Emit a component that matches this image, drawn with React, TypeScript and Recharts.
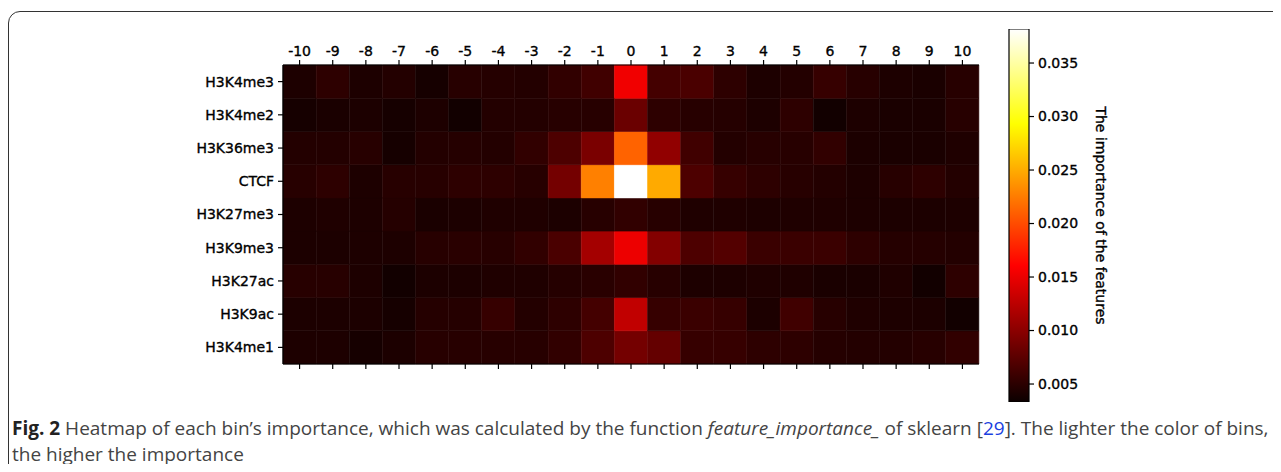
import { BarChart, Bar, XAxis, YAxis, Cell } from 'recharts'

const bins = [-10, -9, -8, -7, -6, -5, -4, -3, -2, -1, 0, 1, 2, 3, 4, 5, 6, 7, 8, 9, 10]
const marks = ['H3K4me3', 'H3K4me2', 'H3K36me3', 'CTCF', 'H3K27me3', 'H3K9me3', 'H3K27ac', 'H3K9ac', 'H3K4me1']

// importance per bin, one array per mark (row order top to bottom)
const h3k4me3 = [0.0043, 0.0051, 0.0043, 0.0046, 0.0039, 0.0048, 0.0047, 0.0046, 0.0053, 0.0061, 0.0153, 0.0063, 0.0066, 0.0051, 0.0043, 0.0046, 0.0056, 0.0048, 0.0043, 0.0041, 0.0048]
const h3k4me2 = [0.0039, 0.0041, 0.0042, 0.0039, 0.0043, 0.0037, 0.0046, 0.0046, 0.0048, 0.0048, 0.0083, 0.0051, 0.0048, 0.0047, 0.0043, 0.0051, 0.0037, 0.0043, 0.0041, 0.0041, 0.0048]
const h3k36me3 = [0.0046, 0.0046, 0.0048, 0.0039, 0.0046, 0.0047, 0.0046, 0.0053, 0.0068, 0.0091, 0.0212, 0.0103, 0.0061, 0.0046, 0.0048, 0.0048, 0.0053, 0.0042, 0.0041, 0.0041, 0.0044]
const ctcf = [0.0048, 0.0051, 0.0043, 0.0048, 0.0048, 0.0051, 0.0051, 0.0048, 0.0088, 0.0227, 0.0382, 0.0249, 0.0068, 0.0056, 0.0051, 0.0048, 0.0046, 0.0043, 0.0048, 0.0051, 0.0046]
const h3k27me3 = [0.0043, 0.0044, 0.0043, 0.0047, 0.0041, 0.0042, 0.0044, 0.0044, 0.0042, 0.0048, 0.0053, 0.0048, 0.0044, 0.0044, 0.0043, 0.0044, 0.0044, 0.0043, 0.0042, 0.0042, 0.0043]
const h3k9me3 = [0.0042, 0.0042, 0.0043, 0.0043, 0.0048, 0.0049, 0.0048, 0.0053, 0.0066, 0.0113, 0.0151, 0.0096, 0.0068, 0.0071, 0.0058, 0.0058, 0.0058, 0.0051, 0.0047, 0.0047, 0.0046]
const h3k27ac = [0.0048, 0.0048, 0.0043, 0.0037, 0.0042, 0.0042, 0.0044, 0.0044, 0.0047, 0.0049, 0.0053, 0.0048, 0.0043, 0.0043, 0.0044, 0.0044, 0.0041, 0.0041, 0.0044, 0.0037, 0.0051]
const h3k9ac = [0.0042, 0.0042, 0.0042, 0.0039, 0.0047, 0.0047, 0.0056, 0.0046, 0.0051, 0.0063, 0.0128, 0.0056, 0.0058, 0.0056, 0.0042, 0.0061, 0.0048, 0.0044, 0.0043, 0.0042, 0.0037]
const h3k4me1 = [0.0043, 0.0043, 0.0039, 0.0042, 0.0048, 0.0048, 0.0048, 0.0048, 0.0053, 0.0068, 0.0088, 0.0080, 0.0056, 0.0056, 0.0051, 0.0051, 0.0047, 0.0046, 0.0046, 0.0048, 0.0053]

const rows = [h3k4me3, h3k4me2, h3k36me3, ctcf, h3k27me3, h3k9me3, h3k27ac, h3k9ac, h3k4me1]

const vmin = 0.00332
const vmax = 0.03818
const cbarTicks = [0.005, 0.01, 0.015, 0.02, 0.025, 0.03, 0.035]

// matplotlib "hot"
function hot(v: number) {
  const t = Math.max(0, Math.min(1, (v - vmin) / (vmax - vmin)))
  const r = t < 0.365079 ? 0.0416 + (1 - 0.0416) * t / 0.365079 : 1
  const g = t < 0.365079 ? 0 : t < 0.746032 ? (t - 0.365079) / (0.746032 - 0.365079) : 1
  const b = t < 0.746032 ? 0 : (t - 0.746032) / (1 - 0.746032)
  return `rgb(${Math.round(r * 255)},${Math.round(g * 255)},${Math.round(b * 255)})`
}

const table = bins.map((bin, j) => {
  const d: Record<string, any> = { bin: String(bin) }
  marks.forEach((m, i) => { d[m] = rows[i][j] })
  return d
})

const font = { fontFamily: 'DejaVu Sans', fontSize: 14, fill: '#000', stroke: '#000', strokeWidth: 0.35 }
const blk = { stroke: '#000', strokeWidth: 1.2 }

export default function App() {
  return (
    <div style={{ position: 'relative', width: 1281, height: 472, margin: -8, overflow: 'hidden', background: '#fff' }}>
      <div style={{
        position: 'absolute', left: 8, top: 11, width: 1300, height: 500,
        border: '1.5px solid #333', borderTopLeftRadius: 12, boxSizing: 'border-box',
      }} />

      <div style={{ position: 'absolute', left: 0, top: 0 }}>
        <BarChart width={1000} height={400} data={table} barCategoryGap={0} barGap={0}
          margin={{ top: 0, right: 21, bottom: 0, left: 0 }}>
          <XAxis dataKey="bin" orientation="top" height={65} interval={0}
            tick={font} tickSize={5} tickMargin={4} axisLine={blk} tickLine={blk} />
          <XAxis dataKey="bin" xAxisId="bottom" orientation="bottom" height={36} interval={0}
            tickFormatter={() => ''} tickSize={5} axisLine={blk} tickLine={blk} />
          <YAxis type="number" domain={[0, 9]} ticks={[0.5, 1.5, 2.5, 3.5, 4.5, 5.5, 6.5, 7.5, 8.5]}
            interval={0} width={283} tick={font} tickSize={5} tickMargin={4}
            tickFormatter={(v: number) => marks[8 - Math.floor(v)]} axisLine={blk} tickLine={blk} />
          <YAxis yAxisId="right" orientation="right" width={0} tick={false} tickLine={false} axisLine={blk} />
          {[...marks].reverse().map(m => (
            <Bar key={m} dataKey={() => 1} name={m} stackId="s" isAnimationActive={false}>
              {table.map(d => {
                const c = hot(d[m])
                return <Cell key={d.bin} fill={c} stroke={c} strokeWidth={0.6} />
              })}
            </Bar>
          ))}
        </BarChart>
      </div>

      <div style={{ position: 'absolute', left: 1000, top: 0 }}>
        <BarChart width={281} height={420} data={[{ name: 'cbar', range: [vmin, vmax] }]}
          barCategoryGap={0} margin={{ top: 29, right: 108, bottom: 18, left: 9 }}>
          <defs>
            <linearGradient id="hot" x1="0" y1="1" x2="0" y2="0">
              <stop offset="0" stopColor="rgb(11,0,0)" />
              <stop offset="0.365079" stopColor="rgb(255,0,0)" />
              <stop offset="0.746032" stopColor="rgb(255,255,0)" />
              <stop offset="1" stopColor="rgb(255,255,255)" />
            </linearGradient>
          </defs>
          <XAxis dataKey="name" hide />
          <YAxis orientation="right" type="number" domain={[vmin, vmax]} ticks={cbarTicks} interval={0}
            allowDataOverflow width={144} tick={font} tickSize={5} tickMargin={4}
            tickFormatter={(v: number) => v.toFixed(3)} axisLine={false} tickLine={blk}
            label={{ value: 'The importance of the features', angle: 90, position: 'center',
              style: { fontFamily: 'DejaVu Sans', fontSize: 14, fill: '#000', stroke: '#000', strokeWidth: 0.35 } }} />
          <Bar dataKey="range" fill="url(#hot)" stroke="#000" strokeWidth={1.2} isAnimationActive={false} />
        </BarChart>
      </div>

      <div style={{
        position: 'absolute', left: 12, top: 415, whiteSpace: 'nowrap',
        fontFamily: '"Open Sans"', fontSize: 19, lineHeight: '26px', color: '#444',
      }}>
        <b style={{ color: '#222' }}>Fig. 2</b> Heatmap of each bin’s importance, which was calculated by the function <i>feature_importance_</i> of sklearn [<span style={{ color: '#1a3fe0' }}>29</span>]. The lighter the color of bins,<br />
        the higher the importance
      </div>
    </div>
  )
}
